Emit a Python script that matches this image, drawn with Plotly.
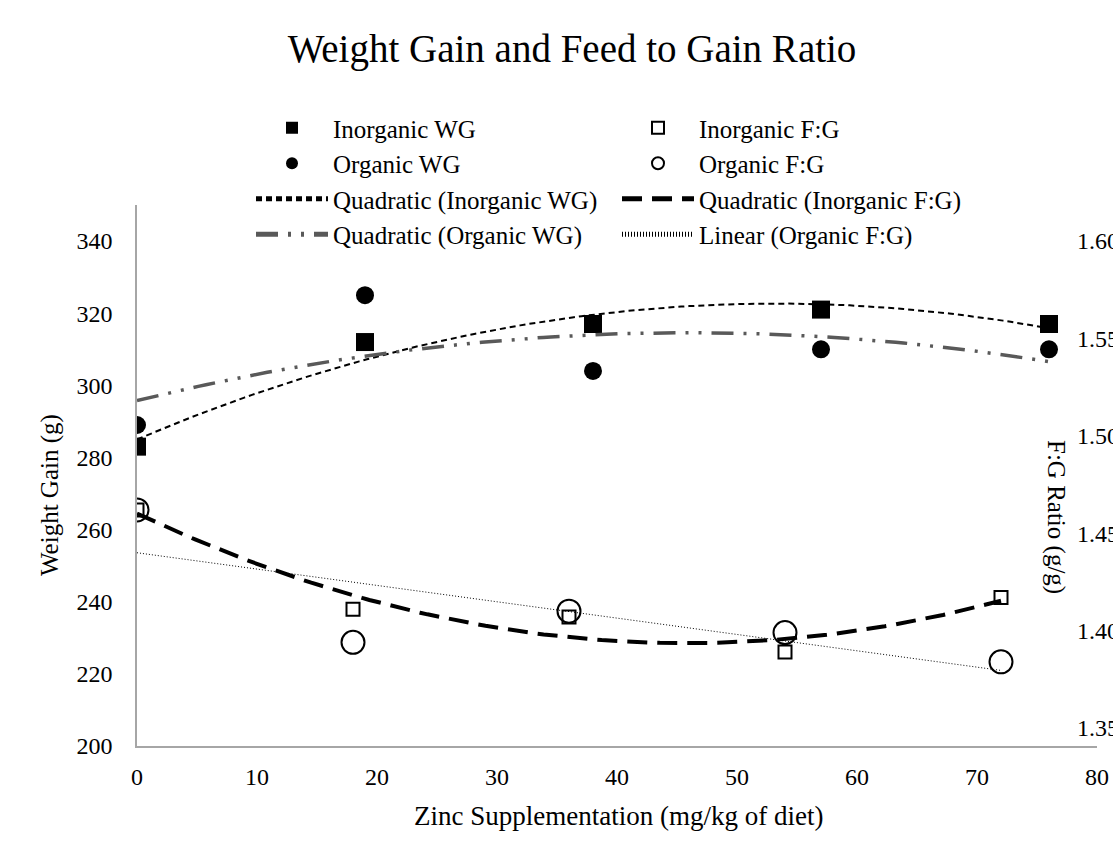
import numpy as np
import plotly.graph_objects as go

# ---- data ----
x_wg = [0, 19, 38, 57, 76]
inorganic_wg = [283, 312, 317, 321, 317]
organic_wg = [289, 325, 304, 310, 310]

x_fg = [0, 18, 36, 54, 72]
inorganic_fg = [1.462, 1.411, 1.407, 1.389, 1.417]
organic_fg = [1.462, 1.394, 1.410, 1.399, 1.384]

x_ticks = [0, 10, 20, 30, 40, 50, 60, 70, 80]
wg_ticks = [200, 220, 240, 260, 280, 300, 320, 340]
fg_ticks = [1.35, 1.40, 1.45, 1.50, 1.55, 1.60]

FONT = "Liberation Serif, Times New Roman, serif"


def trend(x, y, deg):
    coef = np.polyfit(x, y, deg)
    xs = np.linspace(min(x), max(x), 120)
    return xs, np.polyval(coef, xs)


fig = go.Figure()

# markers
fig.add_trace(go.Scatter(x=x_wg, y=inorganic_wg, mode="markers", name="Inorganic WG",
                         marker=dict(symbol="square", size=18, color="black"),
                         legend="legend", yaxis="y"))
fig.add_trace(go.Scatter(x=x_wg, y=organic_wg, mode="markers", name="Organic WG",
                         marker=dict(symbol="circle", size=18, color="black"),
                         legend="legend", yaxis="y"))

# trend lines WG
xs, ys = trend(x_wg, inorganic_wg, 2)
fig.add_trace(go.Scatter(x=xs, y=ys, mode="lines", name="Quadratic (Inorganic WG)",
                         line=dict(color="black", width=2, dash="6px,4px"),
                         legend="legend", yaxis="y"))
xs, ys = trend(x_wg, organic_wg, 2)
fig.add_trace(go.Scatter(x=xs, y=ys, mode="lines", name="Quadratic (Organic WG)",
                         line=dict(color="#595959", width=3.5, dash="22px,10px,3px,10px,3px,10px"),
                         legend="legend", yaxis="y"))

# F:G markers
fig.add_trace(go.Scatter(x=x_fg, y=inorganic_fg, mode="markers", name="Inorganic F:G",
                         marker=dict(symbol="square-open", size=13, color="black",
                                     line=dict(width=2, color="black")),
                         legend="legend2", yaxis="y2"))
fig.add_trace(go.Scatter(x=x_fg, y=organic_fg, mode="markers", name="Organic F:G",
                         marker=dict(symbol="circle-open", size=23, color="black",
                                     line=dict(width=2, color="black")),
                         legend="legend2", yaxis="y2"))

xs, ys = trend(x_fg, inorganic_fg, 2)
fig.add_trace(go.Scatter(x=xs, y=ys, mode="lines", name="Quadratic (Inorganic F:G)",
                         line=dict(color="black", width=4, dash="20px,10px"),
                         legend="legend2", yaxis="y2"))
xs, ys = trend(x_fg, organic_fg, 1)
fig.add_trace(go.Scatter(x=xs, y=ys, mode="lines", name="Linear (Organic F:G)",
                         line=dict(color="black", width=1, dash="1px,2px"),
                         legend="legend2", yaxis="y2"))

W, H = 1113, 856
L, R, T, B = 137, 16, 205, 110
pw = W - L - R
ph = H - T - B


def px_x(px):
    return (px - L) / pw


def px_y(py):
    return (H - B - py) / ph


axis_font = dict(family=FONT, size=24, color="black")

fig.update_layout(
    width=W, height=H,
    margin=dict(l=L, r=R, t=T, b=B, autoexpand=False),
    paper_bgcolor="white", plot_bgcolor="white",
    font=dict(family=FONT, color="black"),
    title=dict(text="Weight Gain and Feed to Gain Ratio", x=572 / W, xref="container",
               xanchor="center", y=1 - 48 / H, yref="container", yanchor="middle",
               font=dict(family=FONT, size=39, color="black")),
    xaxis=dict(range=[0, 80], tickvals=x_ticks, showline=True, linecolor="#a6a6a6",
               linewidth=1.5, ticks="", showgrid=False, zeroline=False,
               tickfont=axis_font, ticklabelstandoff=8, automargin=False),
    yaxis=dict(range=[200, 350], tickvals=wg_ticks, showline=True, linecolor="#a6a6a6",
               linewidth=1.5, ticks="", showgrid=False, zeroline=False,
               tickfont=axis_font, ticklabelstandoff=18, automargin=False),
    yaxis2=dict(range=[1.3408, 1.6185], tickvals=fg_ticks,
                ticktext=[f"{v:.2f}" for v in fg_ticks],
                overlaying="y", side="right", anchor="free", position=px_x(1072),
                showline=False, ticks="", showgrid=False, zeroline=False,
                tickfont=axis_font, ticklabelstandoff=4, automargin=False),
    legend=dict(x=px_x(251), xanchor="left", y=px_y(105), yanchor="top",
                bgcolor="rgba(0,0,0,0)", font=dict(family=FONT, size=25, color="black"),
                itemwidth=72, itemsizing="constant", tracegroupgap=0),
    legend2=dict(x=px_x(617), xanchor="left", y=px_y(105), yanchor="top",
                 bgcolor="rgba(0,0,0,0)", font=dict(family=FONT, size=25, color="black"),
                 itemwidth=72, itemsizing="constant", tracegroupgap=0),
    annotations=[
        dict(text="Zinc Supplementation (mg/kg of diet)", xref="paper", yref="paper",
             x=px_x(618), y=px_y(816), xanchor="center", yanchor="middle", showarrow=False,
             font=dict(family=FONT, size=27, color="black")),
        dict(text="Weight Gain (g)", xref="paper", yref="paper", textangle=-90,
             x=px_x(50), y=px_y(495), xanchor="center", yanchor="middle", showarrow=False,
             font=dict(family=FONT, size=25, color="black")),
        dict(text="F:G Ratio (g/g)", xref="paper", yref="paper", textangle=90,
             x=px_x(1056), y=px_y(517), xanchor="center", yanchor="middle", showarrow=False,
             font=dict(family=FONT, size=25, color="black")),
    ],
)

fig.write_html("out.html", config={"displayModeBar": False},
               post_script="document.body.style.margin='0px';")
